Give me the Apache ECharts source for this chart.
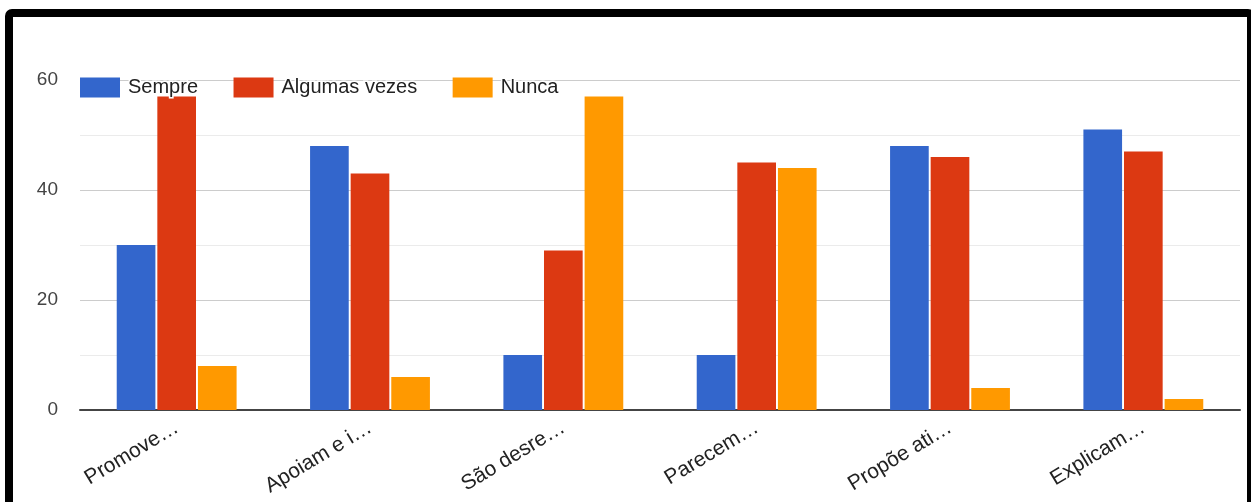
<!DOCTYPE html>
<html>
<head>
<meta charset="utf-8">
<script src="https://cdn.jsdelivr.net/npm/echarts@6/dist/echarts.min.js"></script>
<style>
  html, body { margin: 0; padding: 0; background: #fff; }
  #chart { position: absolute; left: 0; top: 0; width: 1251px; height: 502px; }
  #frame {
    position: absolute; left: 5px; top: 9px; width: 1250px; height: 520px;
    border: 8px solid #000; border-radius: 7px; box-sizing: border-box;
    pointer-events: none;
  }
</style>
</head>
<body>
<div id="chart"></div>
<div id="frame"></div>
<script>
// Survey answers per statement
const categories = ['Promove…', 'Apoiam e i…', 'São desre…', 'Parecem…', 'Propõe ati…', 'Explicam…'];
const sempre = [30, 48, 10, 10, 48, 51];
const algumasVezes = [57, 43, 29, 45, 46, 47];
const nunca = [8, 6, 57, 44, 4, 2];
const yTicks = [0, 20, 40, 60];

const font = 'Arial, "Liberation Sans", sans-serif';
const chart = echarts.init(document.getElementById('chart'), null, { renderer: 'canvas' });

function barSeries(name, data, color) {
  return {
    name: name,
    type: 'bar',
    data: data,
    barGap: '5%',
    barCategoryGap: '38%',
    itemStyle: { color: color },
    emphasis: { disabled: true }
  };
}

chart.setOption({
  animation: false,
  backgroundColor: '#fff',
  grid: { left: 80, right: 11, top: 80, bottom: 92, containLabel: false },
  legend: {
    left: 80,
    top: 76,
    padding: 0,
    itemWidth: 40,
    itemHeight: 20,
    itemGap: 34,
    icon: 'rect',
    textStyle: {
      color: '#222', fontSize: 20, fontFamily: font,
      textBorderColor: '#fff', textBorderWidth: 3, padding: [0, 0, 0, 3]
    },
    data: ['Sempre', 'Algumas vezes', 'Nunca']
  },
  xAxis: {
    type: 'category',
    data: categories,
    axisLine: { lineStyle: { color: '#444', width: 2 } },
    axisTick: { show: false },
    axisLabel: {
      rotate: 31, margin: 16, color: '#222', fontSize: 21, fontFamily: font, interval: 0
    },
    splitLine: { show: false }
  },
  yAxis: {
    type: 'value',
    min: yTicks[0],
    max: yTicks[yTicks.length - 1],
    interval: yTicks[1] - yTicks[0],
    axisLine: { show: false },
    axisTick: { show: false },
    axisLabel: { color: '#444', fontSize: 19, fontFamily: font, margin: 22 },
    splitLine: { lineStyle: { color: '#cccccc', width: 1 } },
    minorTick: { show: false, splitNumber: 2 },
    minorSplitLine: { show: true, lineStyle: { color: '#ebebeb', width: 1 } }
  },
  series: [
    barSeries('Sempre', sempre, '#3366cc'),
    barSeries('Algumas vezes', algumasVezes, '#dc3912'),
    barSeries('Nunca', nunca, '#ff9900')
  ]
});
</script>
</body>
</html>
